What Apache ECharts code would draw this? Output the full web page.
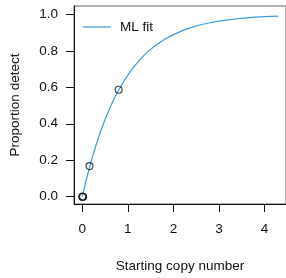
<!DOCTYPE html>
<html><head><meta charset="utf-8">
<script src="https://cdn.jsdelivr.net/npm/echarts@6/dist/echarts.min.js"></script>
<style>html,body{margin:0;padding:0;background:#fff}#c{width:286px;height:278px}</style>
</head><body><div id="c"></div>
<script>
// Fitted curve
const fitX = [0, 0.1, 0.2, 0.3, 0.4, 0.5, 0.6, 0.7, 0.8, 0.9, 1.0, 1.1, 1.2, 1.3, 1.4, 1.5, 1.6, 1.8, 2.0, 2.2, 2.4, 2.6, 2.8, 3.0, 3.2, 3.4, 3.6, 3.8, 4.0, 4.3];
const fitY = [0, 0.104, 0.197, 0.281, 0.356, 0.423, 0.483, 0.537, 0.585, 0.628, 0.667, 0.702, 0.733, 0.761, 0.786, 0.808, 0.828, 0.862, 0.889, 0.911, 0.929, 0.943, 0.954, 0.963, 0.970, 0.976, 0.981, 0.985, 0.988, 0.991];
// Observed points
const obsX = [0, 0.01, 0.02, 0.16, 0.8];
const obsY = [0, 0, 0, 0.168, 0.587];
const xTicks = [0, 1, 2, 3, 4];
const yTicks = [0, 0.2, 0.4, 0.6, 0.8, 1.0];

const font = 'Liberation Sans, Arial, sans-serif';
const fs = 13.5;
const chart = echarts.init(document.getElementById('c'), null, {renderer: 'canvas'});
chart.setOption({
  animation: false,
  grid: {left: 73, top: 6, right: -1, bottom: 73, show: true, borderColor: '#666', borderWidth: 1, containLabel: false},
  legend: {
    left: 78, top: 15, data: [{name: 'ML fit', icon: 'rect'}], itemWidth: 28, itemHeight: 1.2, itemGap: 0,
    textStyle: {fontFamily: font, fontSize: fs, color: '#111', padding: [0, 0, 0, 4]}
  },
  xAxis: {
    type: 'value', min: -0.18, max: 4.47,
    name: 'Starting copy number', nameLocation: 'middle', nameGap: 55,
    nameTextStyle: {fontFamily: font, fontSize: fs, color: '#111'},
    axisLine: {show: true, onZero: false, lineStyle: {color: '#111', width: 1}},
    axisTick: {show: true, length: 8, customValues: xTicks, lineStyle: {color: '#111'}},
    axisLabel: {customValues: xTicks, margin: 18, fontFamily: font, fontSize: fs, color: '#111'},
    splitLine: {show: false}
  },
  yAxis: {
    type: 'value', min: -0.04, max: 1.046,
    name: 'Proportion detect', nameLocation: 'middle', nameGap: 52,
    nameTextStyle: {fontFamily: font, fontSize: fs, color: '#111'},
    axisLine: {show: true, onZero: false, lineStyle: {color: '#111', width: 1}},
    axisTick: {show: true, length: 8, customValues: yTicks, lineStyle: {color: '#111'}},
    axisLabel: {customValues: yTicks, margin: 16, fontFamily: font, fontSize: fs, color: '#111',
      formatter: v => v.toFixed(1)},
    splitLine: {show: false}
  },
  series: [
    {
      name: 'ML fit', type: 'line', smooth: false, symbol: 'none',
      lineStyle: {color: '#3d9be0', width: 1.2}, itemStyle: {color: '#3d9be0'},
      data: fitX.map((x, i) => [x, fitY[i]]), z: 2
    },
    {
      name: 'obs', type: 'scatter', symbol: 'circle', symbolSize: 7,
      itemStyle: {color: 'rgba(0,0,0,0)', borderColor: '#111', borderWidth: 1.1},
      data: obsX.map((x, i) => [x, obsY[i]]), z: 3
    }
  ]
});
</script></body></html>
